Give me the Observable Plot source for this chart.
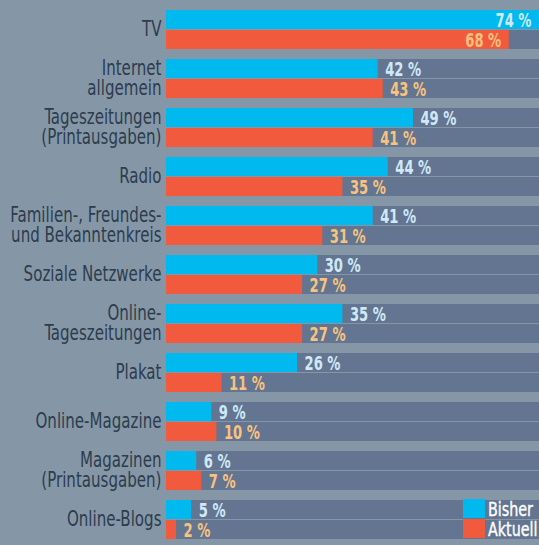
<!DOCTYPE html>
<html>
<head>
<meta charset="utf-8">
<script src="https://cdn.jsdelivr.net/npm/d3@7"></script>
<script src="https://cdn.jsdelivr.net/npm/@observablehq/plot@0.6"></script>
<style>
  html, body { margin: 0; padding: 0; background: #8597a6; }
  #wrap { position: relative; width: 539px; height: 545px; overflow: hidden; }
  #legend { position: absolute; left: 463px; top: 499px; font-family: "DejaVu Sans Condensed", "Liberation Sans Narrow", sans-serif; font-size: 19px; color: #ffffff; -webkit-text-stroke: 0.35px #ffffff; }
  .item { display: flex; align-items: center; height: 19px; margin-bottom: 1px; }
  .sw { width: 22px; height: 19px; margin-right: 3px; flex: none; }
  .lt { display: inline-block; transform-origin: 0 50%; white-space: nowrap; }
</style>
</head>
<body>
<div id="wrap"><div id="chart"></div><div id="legend"></div></div>
<script>
const categories = ["TV", "Internet\nallgemein", "Tageszeitungen\n(Printausgaben)", "Radio", "Familien-, Freundes-\nund Bekanntenkreis", "Soziale Netzwerke", "Online-\nTageszeitungen", "Plakat", "Online-Magazine", "Magazinen\n(Printausgaben)", "Online-Blogs"];
const series = ["Bisher", "Aktuell"];
const bisher = [74, 42, 49, 44, 41, 30, 35, 26, 9, 6, 5];
const aktuell = [68, 43, 41, 35, 31, 27, 27, 11, 10, 7, 2];
const xMax = 74;

const colors = {Bisher: "#00b9ef", Aktuell: "#f15a3d"};
const labelColors = {Bisher: "#cfe9f8", Aktuell: "#f9c27e"};
const font = '"DejaVu Sans Condensed", "Liberation Sans Narrow", sans-serif';

const rows = [];
categories.forEach((c, i) => {
  rows.push({cat: c, series: "Bisher", value: bisher[i]});
  rows.push({cat: c, series: "Aktuell", value: aktuell[i]});
});

const chart = Plot.plot({
  width: 539,
  height: 545,
  marginLeft: 166,
  marginRight: 0,
  marginTop: 9,
  marginBottom: 6,
  style: {background: "#8597a6", fontFamily: font},
  x: {domain: [0, xMax], axis: null},
  y: {domain: series, paddingInner: 0.05, paddingOuter: 0, axis: null},
  fy: {domain: categories, paddingInner: 10 / 49, paddingOuter: 0, label: null},
  marks: [
    Plot.barX(rows, {fy: "cat", y: "series", x1: 0, x2: xMax, fill: "#637590"}),
    Plot.barX(rows, {fy: "cat", y: "series", x1: 0, x2: "value", fill: d => colors[d.series]}),
    Plot.text(rows.filter(d => d.value <= 60), {
      fy: "cat", y: "series", x: "value", text: d => `${d.value} %`,
      dx: 7, dy: 1, textAnchor: "start", fill: d => labelColors[d.series],
      fontSize: 19, fontWeight: "bold", fontFamily: font, ariaDescription: "values"
    }),
    Plot.text(rows.filter(d => d.value > 60), {
      fy: "cat", y: "series", x: "value", text: d => `${d.value} %`,
      dx: -8, dy: 1, textAnchor: "end", fill: d => labelColors[d.series],
      fontSize: 19, fontWeight: "bold", fontFamily: font, ariaDescription: "values"
    }),
    Plot.axisFy({anchor: "left", tickSize: 0, tickPadding: 5, label: null, fontSize: 21, lineHeight: 0.93, fill: "#2d3c4e", stroke: "#2d3c4e", strokeWidth: 0.4, fontFamily: font, ariaDescription: "catlabels"})
  ]
});
document.getElementById("chart").appendChild(chart);

// horizontally condense texts (about their anchor) to mimic the condensed typeface of the original
function condense(nodes, s) {
  const info = nodes.map(el => {
    const bb = el.getBBox();
    const anchor = window.getComputedStyle(el).textAnchor;
    const ax = anchor === "end" ? bb.x + bb.width : anchor === "middle" ? bb.x + bb.width / 2 : bb.x;
    return {el, ax};
  });
  info.forEach(({el, ax}) => {
    const tr = el.getAttribute("transform") || "";
    el.setAttribute("transform", `${tr} translate(${ax},0) scale(${s},1) translate(${-ax},0)`.trim());
  });
}
const svg = d3.select(chart.tagName.toLowerCase() === "svg" ? chart : chart.querySelector("svg"));
const catTexts = svg.selectAll('g[aria-description="catlabels"] text').nodes();
const ref = catTexts.find(n => n.textContent === "Soziale Netzwerke");
if (ref) condense(catTexts, 138 / ref.getComputedTextLength());
const valTexts = svg.selectAll('g[aria-description="values"] text').nodes();
const ref2 = valTexts.find(n => n.textContent === "74 %");
if (ref2) condense(valTexts, 36 / ref2.getComputedTextLength());

const legend = document.getElementById("legend");
const ctx = document.createElement("canvas").getContext("2d");
ctx.font = `19px ${font}`;
const ls = 45 / ctx.measureText("Bisher").width;
series.forEach(s => {
  const item = document.createElement("div");
  item.className = "item";
  const sw = document.createElement("div");
  sw.className = "sw";
  sw.style.background = colors[s];
  const t = document.createElement("span");
  t.className = "lt";
  t.style.transform = `scaleX(${ls})`;
  t.textContent = s;
  item.appendChild(sw);
  item.appendChild(t);
  legend.appendChild(item);
});
</script>
</body>
</html>
